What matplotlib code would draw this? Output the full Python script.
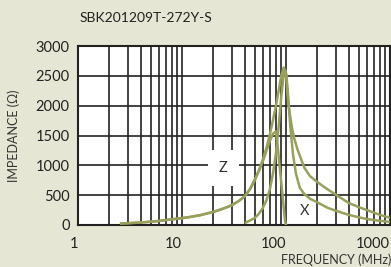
import matplotlib
matplotlib.use("Agg")
import matplotlib.pyplot as plt
import numpy as np

plt.rcParams['font.family'] = ['Lato', 'DejaVu Sans']

title = "SBK201209T-272Y-S"

# impedance |Z|
z_freq = [2.6, 3, 4, 5, 6, 8, 10, 12, 15, 20, 25, 30, 35, 40, 45, 50, 55, 60, 65,
          70, 75, 80, 85, 90, 95, 100, 105, 110, 115, 120, 130, 140, 150, 170,
          200, 250, 300, 400, 500, 600, 800, 1000]
z_ohm = [25, 30, 42, 55, 68, 95, 115, 135, 165, 220, 275, 330, 400, 480, 600, 760,
         920, 1100, 1300, 1520, 1760, 2000, 2250, 2500, 2640, 2550, 2050, 1800,
         1600, 1450, 1250, 1100, 960, 820, 720, 600, 510, 370, 300, 250, 170, 120]

# resistance R
r_freq = [41, 45, 50, 55, 60, 65, 70, 75, 80, 85, 90, 95, 98, 101, 105, 110, 117,
          125, 136, 150, 170, 200, 250, 300, 400, 500, 600, 800, 1000]
r_ohm = [40, 75, 117, 190, 290, 420, 600, 865, 1200, 1650, 2150, 2520, 2600, 2500,
         2150, 1650, 1170, 850, 620, 520, 440, 380, 290, 240, 170, 130, 100, 70, 52]

# reactance X
x_freq = [2.6, 3, 4, 5, 6, 8, 10, 12, 15, 20, 25, 30, 35, 40, 45, 50, 55, 60, 65,
          70, 75, 80, 83, 86, 89, 92, 95, 98, 100]
x_ohm = [25, 30, 42, 55, 68, 95, 115, 135, 165, 220, 275, 330, 400, 478, 595, 750,
         905, 1070, 1250, 1410, 1530, 1570, 1330, 1060, 800, 550, 300, 60, 0]

x_ticks = [1, 10, 100, 1000]
x_ticklabels = ["1", "10", "100", "1000"]
y_ticks = [0, 500, 1000, 1500, 2000, 2500, 3000]

bg = '#e6e6d4'
curve = '#98a05a'
grid = '#222222'

fig = plt.figure(figsize=(3.91, 2.67), dpi=100, facecolor=bg)
ax = fig.add_axes([78 / 391, 42 / 267, 312 / 391, 179 / 267])
ax.set_facecolor('white')

ax.plot(z_freq, z_ohm, color=curve, lw=1.8, zorder=3)
ax.plot(r_freq, r_ohm, color=curve, lw=1.8, zorder=3)
ax.plot(x_freq, x_ohm, color=curve, lw=1.8, zorder=3)

ax.set_xscale('log')
ax.set_xlim(1, 1000)
ax.set_ylim(0, 3000)
ax.set_xticks(x_ticks)
ax.set_xticklabels(x_ticklabels, ha='right')
ax.set_yticks(y_ticks)
ax.grid(True, which='both', axis='x', color=grid, lw=1.2)
ax.grid(True, which='major', axis='y', color=grid, lw=1.2)
ax.tick_params(which='both', length=0)
ax.tick_params(axis='y', pad=6, labelsize=10.5, colors='#222222')
ax.tick_params(axis='x', pad=9, labelsize=10.5, colors='#222222')
for s in ax.spines.values():
    s.set_color('#222222')
    s.set_linewidth(1.5)

ax.text(25, 950, "Z", ha='center', va='center', fontsize=10.5, color='#333333',
        zorder=4, bbox=dict(boxstyle='square,pad=0.75', fc='white', ec='none'))
ax.text(150, 240, "X", ha='center', va='center', fontsize=10.5, color='#333333',
        zorder=4)

ax.set_ylabel("IMPEDANCE (Ω)", fontsize=9, color='#333333')
ax.yaxis.set_label_coords(-58 / 312, 0.5)
fig.text(391 / 391, 7 / 267, "FREQUENCY (MHz)", ha='right', va='center',
         fontsize=9, color='#333333')
fig.text(80 / 391, 1 - 18 / 267, title, ha='left', va='center', fontsize=10,
         color='#222222')

fig.savefig('out.png', dpi=100, facecolor=bg)
